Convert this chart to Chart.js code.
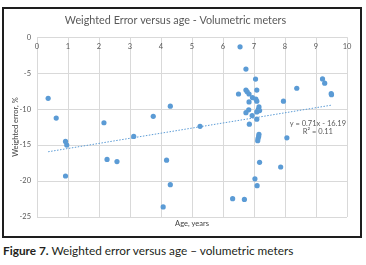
<!DOCTYPE html>
<html>
<head>
<meta charset="utf-8">
<script src="https://cdn.jsdelivr.net/npm/chart.js@4"></script>
<style>
  body { margin: 0; background: #fff; width: 366px; height: 265px; overflow: hidden; position: relative; }
  #box { position: absolute; left: 2px; top: 7px; width: 356px; height: 227px; border: 2px solid #1e1e1e; }
  #box canvas { display: block; }
  #caption { position: absolute; left: 3px; top: 243px; font-family: Lato, sans-serif; font-size: 11.8px; color: #231f20; white-space: nowrap; }
  #caption b { font-weight: 700; }
</style>
</head>
<body>
<div id="box"><canvas id="grafico" width="356" height="227"></canvas></div>
<div id="caption"><b>Figure 7.</b> Weighted error versus age – volumetric meters</div>
<script>
// Dados
const idades = [0.36, 0.62, 0.92, 0.96, 0.92, 2.16, 2.26, 2.58, 3.12, 3.75, 4.30, 4.18, 4.30, 4.07, 5.26,
    6.55, 6.74, 7.05, 6.50, 6.74, 6.78, 6.84, 7.09, 6.95, 7.06, 6.84, 7.09, 6.83, 6.74, 7.16, 7.14, 7.09, 7.18,
    6.94, 7.09, 6.85, 7.16, 7.15, 7.13, 7.12, 7.18, 7.03, 7.10, 6.31, 6.69, 9.21, 9.28, 9.49, 9.50, 8.38, 7.95, 8.06, 7.86];
const erros = [-8.5, -11.25, -14.5, -15.0, -19.3, -11.9, -17.0, -17.3, -13.8, -11.0, -9.6, -17.1, -20.5, -23.6, -12.4,
    -1.35, -4.44, -5.83, -7.9, -7.36, -7.6, -7.9, -7.36, -8.4, -8.6, -9.0, -8.9, -10.1, -10.5, -9.7, -10.05, -10.4, -10.2,
    -10.9, -11.4, -12.1, -13.5, -13.8, -14.1, -14.4, -17.4, -19.7, -20.65, -22.45, -22.55, -5.8, -6.4, -7.85, -8.0, -7.1, -8.9, -14.0, -18.05];

// linha de tendência (extremos)
const tendenciaX = [0.36, 9.5];
const tendenciaY = [-15.93, -9.45];
const equacao = ['y = 0.71x - 16.19', 'R² = 0.11'];
const posEquacao = { x: 9.06, y: [-12.0, -13.15] };

const azul = '#5b9bd5';
const cinza = '#595959';
const fonte = 'Lato, sans-serif';

const pontos = idades.map((x, i) => ({ x: x, y: erros[i] }));
const tendencia = tendenciaX.map((x, i) => ({ x: x, y: tendenciaY[i] }));

const textoEquacao = {
    id: 'textoEquacao',
    afterDatasetsDraw(chart) {
        const ctx = chart.ctx;
        const sx = chart.scales.x, sy = chart.scales.y;
        ctx.save();
        ctx.fillStyle = cinza;
        ctx.font = '7.5px ' + fonte;
        ctx.textAlign = 'center';
        ctx.textBaseline = 'middle';
        equacao.forEach((t, i) => {
            ctx.fillText(t, sx.getPixelForValue(posEquacao.x), sy.getPixelForValue(posEquacao.y[i]));
        });
        ctx.restore();
    }
};

new Chart(document.getElementById('grafico').getContext('2d'), {
    type: 'scatter',
    data: {
        datasets: [{
            label: 'Weighted error',
            data: pontos,
            backgroundColor: azul,
            borderColor: azul,
            borderWidth: 0,
            pointRadius: 2.6,
            order: 0
        }, {
            label: 'Linear',
            type: 'line',
            data: tendencia,
            borderColor: azul,
            borderWidth: 1,
            borderDash: [1.5, 1.5],
            pointRadius: 0,
            fill: false,
            order: 1
        }]
    },
    plugins: [textoEquacao],
    options: {
        responsive: false,
        animation: false,
        layout: { padding: { left: 0, right: 13, top: 0, bottom: 0 } },
        plugins: {
            legend: { display: false },
            tooltip: { enabled: false },
            title: {
                display: true,
                text: 'Weighted Error versus age - Volumetric meters',
                color: cinza,
                font: { family: fonte, size: 10.8, weight: 'normal' },
                padding: { top: 5.2, bottom: 10 }
            },
            subtitle: {
                display: true,
                position: 'bottom',
                fullSize: false,
                text: 'Age, years',
                color: '#404040',
                font: { family: fonte, size: 7.5 },
                padding: { top: 2.5, bottom: 7.5 }
            }
        },
        scales: {
            x: {
                type: 'linear',
                position: { y: 0 },
                min: 0,
                max: 10,
                ticks: { stepSize: 1, padding: 5, color: cinza, font: { family: fonte, size: 7.5 } },
                grid: { color: '#d9d9d9', drawTicks: false },
                border: { display: false }
            },
            y: {
                min: -25,
                max: 0,
                ticks: { stepSize: 5, padding: 6, color: cinza, font: { family: fonte, size: 7.5 } },
                grid: { color: '#d9d9d9', drawTicks: false },
                border: { display: false },
                title: {
                    display: true,
                    text: 'Weighted error, %',
                    color: '#404040',
                    font: { family: fonte, size: 7.5 },
                    padding: { top: 7, bottom: 0 }
                },
                afterFit(escala) { escala.width = 33; }
            }
        }
    }
});
</script>
</body>
</html>
